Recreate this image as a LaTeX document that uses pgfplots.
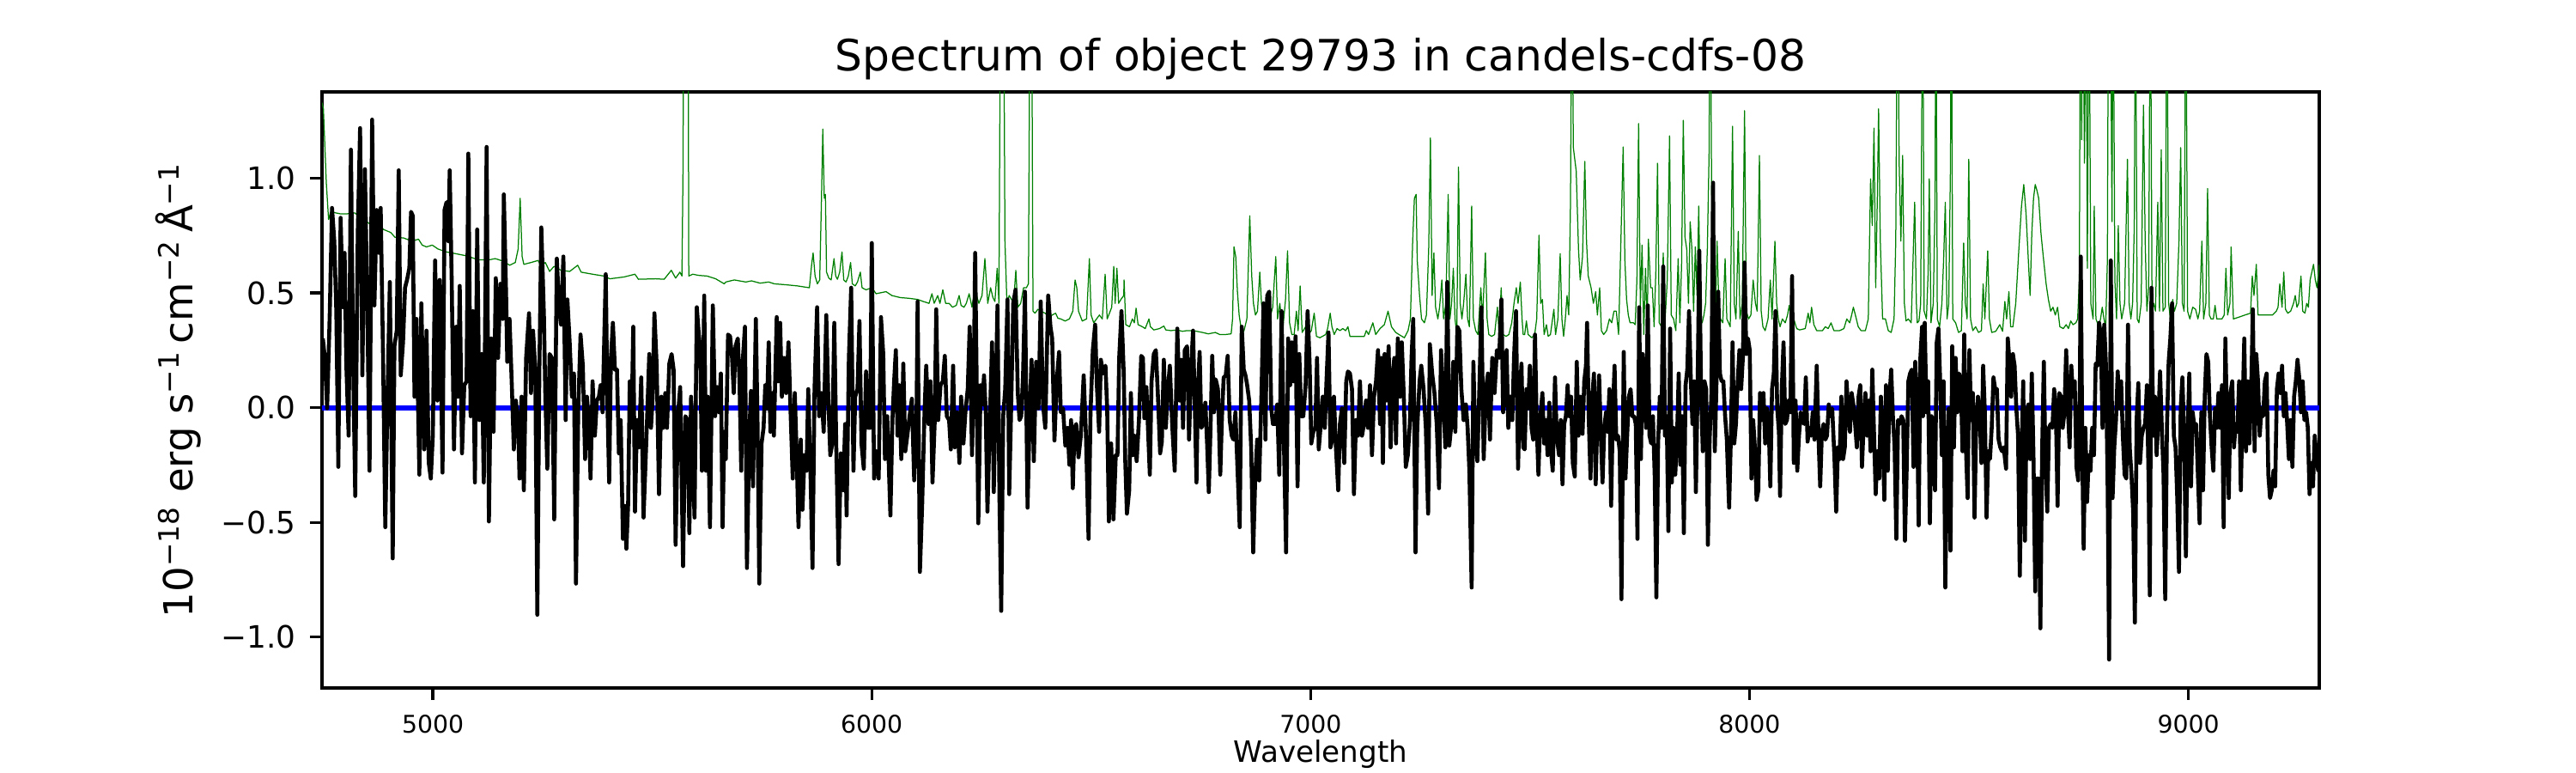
\documentclass[border=0pt]{standalone}
\usepackage{fontspec}
\setmainfont{DejaVu Sans}
\usepackage{pgfplots}
\pgfplotsset{compat=1.18}
\definecolor{mplgreen}{rgb}{0,0.5,0}
\begin{document}
\begin{tikzpicture}
\useasboundingbox (0,0) rectangle (720pt,216pt);
\begin{axis}[
  at={(90pt,23.76pt)}, anchor=south west,
  scale only axis, width=558.24pt, height=166.56pt,
  xmin=4747.5, xmax=9298.3, ymin=-1.222, ymax=1.377,
  axis line style={line width=0.8pt},
  tick align=outside, xtick pos=bottom, ytick pos=left,
  major tick length=3.36pt,
  every tick/.style={black, line width=0.8pt},
  xtick={5000,6000,7000,8000,9000},
  xticklabels={5000,6000,7000,8000,9000},
  ytick={-1,-0.5,0,0.5,1},
  yticklabels={−1.0,−0.5,0.0,0.5,1.0},
  scaled x ticks=false, scaled y ticks=false,
  xticklabel style={font=\fontsize{6.8}{8}\selectfont, anchor=north, inner sep=0pt, yshift=-4.08pt},
  yticklabel style={font=\fontsize{8.6}{10}\selectfont, anchor=east, inner sep=0pt, xshift=-3.74pt},
  title={Spectrum of object 29793 in candels-cdfs-08},
  every axis title/.style={font=\fontsize{12.07}{14}\selectfont, at={(axis description cs:0.5,1)}, anchor=base, yshift=5.85pt, inner sep=0pt},
  xlabel={Wavelength},
  every axis x label/.style={font=\fontsize{8.2}{10}\selectfont, at={(axis description cs:0.5,0)}, anchor=base, yshift=-20.88pt, inner sep=0pt},
  ylabel={10\textsuperscript{−18} erg s\textsuperscript{−1}\,cm\textsuperscript{−2}\,Å\textsuperscript{−1}},
  every axis y label/.style={font=\fontsize{11.2}{13}\selectfont, at={(axis description cs:-0.0645,0.5)}, rotate=90, anchor=base, inner sep=0pt},
  clip=true,
]
% green (noise / sky) spectrum
\addplot[mplgreen, line width=0.3pt, line join=round] coordinates {
(4747.5,1.33)(4750.7,1.303)(4757.3,0.981)(4762.5,0.820)(4767.1,0.854)(4789.9,0.845)(4803.0,0.845)(4822.5,0.849)(4835.6,0.828)(4855.1,0.803)(4868.2,0.811)(4887.8,0.777)(4904.1,0.764)(4913.8,0.743)(4933.4,0.740)(4953.0,0.726)(4967.3,0.735)(4975.8,0.709)(4985.6,0.701)(4998.7,0.709)(5011.7,0.692)(5031.3,0.679)(5050.9,0.672)(5077.0,0.662)(5103.0,0.645)(5129.1,0.645)(5142.2,0.650)(5161.8,0.638)(5174.8,0.621)(5187.9,0.633)(5194.4,0.692)(5199.0,0.913)(5203.5,0.659)(5207.4,0.625)(5223.7,0.633)(5240.1,0.642)(5246.6,0.616)(5256.4,0.633)(5266.1,0.594)(5275.9,0.616)(5292.2,0.599)(5311.8,0.594)(5330.1,0.621)(5337.9,0.591)(5364.0,0.582)(5390.1,0.574)(5403.2,0.562)(5435.8,0.570)(5460.6,0.582)(5468.4,0.560)(5507.5,0.562)(5527.1,0.560)(5543.4,0.599)(5553.2,0.565)(5563.0,0.591)(5567.6,0.574)(5570.2,1.066)(5571.5,2.0)(5576.5,2.0)(5581.5,2.0)(5583.2,0.574)(5592.3,0.582)(5605.4,0.577)(5625.0,0.574)(5644.5,0.562)(5664.1,0.540)
(5667.5,0.548)(5687.0,0.557)(5713.1,0.548)(5726.2,0.553)(5745.8,0.543)(5765.3,0.548)(5778.4,0.540)(5804.5,0.536)(5830.6,0.531)(5858.0,0.523)(5863.2,0.625)(5866.5,0.675)(5871.0,0.574)(5876.2,0.540)(5881.5,0.557)(5885.4,0.896)(5888.6,1.215)(5891.9,0.913)(5894.5,0.930)(5897.1,0.591)(5902.3,0.565)(5907.6,0.557)(5914.1,0.650)(5918.0,0.574)(5921.9,0.560)(5927.1,0.591)(5932.3,0.679)(5936.3,0.557)(5941.5,0.548)(5946.7,0.574)(5951.9,0.633)(5955.8,0.540)(5962.4,0.531)(5967.6,0.548)(5974.1,0.591)(5978.0,0.523)(5987.1,0.514)(6000.2,0.523)(6010.0,0.497)(6032.8,0.506)(6045.9,0.489)(6065.4,0.480)(6085.0,0.477)(6104.6,0.472)(6117.6,0.463)(6130.7,0.455)(6137.2,0.497)(6142.4,0.455)(6150.3,0.489)(6155.5,0.455)(6162.0,0.514)(6168.5,0.455)(6176.3,0.455)(6184.2,0.438)(6192.7,0.446)(6199.2,0.489)(6203.7,0.446)(6210.3,0.438)(6215.5,0.455)(6222.0,0.497)(6228.5,0.438)(6235.1,0.523)(6239.0,0.489)(6244.2,0.455)(6251.4,0.489)(6257.9,0.650)(6264.4,0.455)(6270.9,0.523)(6276.2,0.480)(6280.7,0.463)(6285.9,0.608)(6289.9,0.455)(6293.8,2.0)(6300.3,2.0)(6303.6,0.726)(6308.1,0.455)(6313.3,0.489)(6318.6,0.472)(6323.1,0.455)(6328.4,0.599)(6332.9,0.438)(6339.5,0.455)(6346.0,0.523)(6352.5,0.523)(6357.1,0.540)(6361.0,2.0)(6364.2,2.0)(6367.5,0.421)(6372.1,0.412)(6378.6,0.429)(6385.1,0.421)(6394.9,0.412)(6404.7,0.395)(6411.2,0.404)(6419.0,0.412)(6424.3,0.390)(6430.8,0.387)(6440.6,0.378)(6450.4,0.387)(6458.2,0.421)(6463.4,0.557)(6467.3,0.523)(6471.2,0.421)(6479.7,0.378)(6489.5,0.387)(6496.0,0.650)(6499.9,0.404)(6505.8,0.370)(6512.3,0.387)(6518.8,0.404)(6525.4,0.387)(6531.9,0.582)(6536.5,0.387)(6541.7,0.412)(6546.9,0.438)(6551.5,0.616)(6554.7,0.455)(6558.7,0.608)(6562.6,0.455)(6567.8,0.472)(6574.3,0.489)
(6575.0,0.557)(6578.9,0.362)(6587.4,0.353)(6593.9,0.387)(6598.4,0.370)(6602.4,0.434)(6606.9,0.362)(6616.7,0.353)(6623.2,0.345)(6631.7,0.387)(6635.0,0.353)(6642.8,0.339)(6655.9,0.345)(6665.6,0.356)(6670.2,0.339)(6682.0,0.336)(6695.0,0.339)(6708.1,0.333)(6717.8,0.336)(6730.9,0.336)(6740.7,0.333)(6753.7,0.328)(6766.8,0.322)(6783.1,0.328)(6792.9,0.319)(6805.9,0.319)(6819.0,0.322)(6822.2,0.387)(6825.5,0.701)(6829.4,0.659)(6833.3,0.506)(6837.2,0.404)(6843.8,0.319)(6848.3,0.336)(6854.8,0.387)(6861.4,0.837)(6865.9,0.574)(6869.8,0.455)(6874.4,0.404)(6879.0,0.421)(6884.2,0.591)(6888.1,0.455)(6892.0,0.387)(6897.2,0.404)(6901.2,0.455)(6907.0,0.387)(6913.6,0.438)(6920.7,0.659)(6924.7,0.387)(6929.9,0.455)(6936.4,0.336)(6942.9,0.472)(6947.5,0.684)(6952.1,0.370)(6957.3,0.319)(6962.5,0.319)(6967.7,0.421)(6971.6,0.336)(6976.2,0.531)(6980.8,0.328)(6988.6,0.353)(6995.1,0.319)(7001.6,0.336)(7008.2,0.412)(7013.4,0.311)(7021.2,0.305)(7034.3,0.319)(7038.8,0.345)(7044.7,0.412)(7048.6,0.353)(7053.8,0.319)(7060.3,0.345)(7066.9,0.336)(7073.4,0.345)(7079.9,0.336)(7085.1,0.353)(7089.7,0.311)(7112.5,0.311)(7122.3,0.311)(7126.9,0.336)(7132.1,0.319)(7141.9,0.370)(7148.4,0.319)(7158.2,0.345)(7168.0,0.362)(7176.5,0.421)(7184.3,0.353)(7194.1,0.328)(7203.9,0.316)(7213.7,0.305)(7222.1,0.336)(7227.4,0.387)(7232.6,0.726)(7236.5,0.913)(7240.4,0.930)(7243.0,0.642)(7248.3,0.489)(7252.8,0.387)(7259.3,0.370)(7263.9,0.404)(7269.1,0.692)(7273.0,1.176)(7276.9,0.489)(7280.9,0.675)(7284.8,0.438)(7290.0,0.387)(7293.9,0.438)(7299.1,0.557)(7303.0,0.387)(7308.3,0.455)(7313.5,0.930)(7317.4,0.387)(7321.3,0.455)(7325.2,0.608)(7329.1,0.387)(7333.1,0.319)(7337.0,1.049)(7340.9,0.455)(7344.8,0.387)(7348.7,0.455)(7353.9,0.582)(7357.8,0.387)(7361.8,0.353)(7367.0,0.879)(7370.9,0.387)(7376.1,0.336)(7381.3,0.319)(7387.9,0.523)(7391.8,0.387)(7398.3,0.675)(7402.2,0.387)(7406.1,0.319)(7412.6,0.311)(7419.2,0.319)(7425.7,0.438)(7429.6,0.319)(7434.2,0.523)(7438.7,0.319)(7445.3,0.311)(7451.8,0.319)(7458.3,0.370)(7463.5,0.455)(7468.7,0.523)(7472.7,0.455)(7477.9,0.548)(7481.8,0.387)(7484.4,0.319)
(7487.8,0.319)(7491.7,0.378)(7495.6,0.319)(7504.1,0.305)(7510.6,0.319)(7515.2,0.387)(7520.4,0.752)(7524.3,0.455)(7528.2,0.472)(7532.1,0.319)(7537.4,0.362)(7541.3,0.311)(7546.5,0.319)(7554.3,0.429)(7558.2,0.319)(7563.5,0.387)(7568.7,0.672)(7572.6,0.387)(7576.5,0.311)(7580.4,0.387)(7584.3,0.489)(7588.2,0.404)(7592.2,0.896)(7595.4,2.0)(7598.7,1.134)(7605.2,1.032)(7610.4,0.692)(7614.3,0.557)(7619.6,0.659)(7624.8,1.074)(7628.7,0.726)(7632.6,0.574)(7639.1,0.523)(7644.3,0.455)(7649.6,0.506)(7653.5,0.404)(7658.7,0.523)(7662.6,0.336)(7667.8,0.319)(7674.4,0.336)(7680.9,0.387)(7686.1,0.370)(7691.3,0.421)(7696.5,0.421)(7701.8,0.319)(7707.0,0.726)(7712.2,1.137)(7716.1,0.642)(7720.0,0.472)(7723.9,0.404)(7727.9,0.370)(7735.7,0.370)(7739.6,0.362)(7743.5,0.557)(7747.4,1.239)(7751.3,0.438)(7755.3,0.709)(7759.2,0.319)(7763.1,0.608)(7767.0,0.336)(7769.6,0.735)(7774.8,0.523)(7778.7,0.523)(7782.7,0.353)(7786.6,0.591)(7790.5,1.066)(7794.4,0.370)(7799.6,0.353)(7803.5,0.675)(7807.4,0.370)(7812.7,0.557)(7817.9,1.185)(7821.8,0.404)(7827.0,0.387)(7832.2,0.336)(7837.5,0.650)(7841.4,0.370)(7845.3,0.625)(7849.2,1.253)(7853.1,0.743)(7857.0,0.692)(7861.0,0.455)(7864.9,0.811)(7868.8,0.692)(7872.7,0.421)(7876.6,0.701)(7880.5,0.489)(7884.4,0.879)(7888.4,0.387)(7892.3,0.370)(7896.2,0.404)(7900.1,0.455)(7904.0,0.692)(7907.9,1.100)(7910.5,2.0)(7914.4,0.726)(7918.4,0.455)(7922.3,0.370)(7926.2,0.726)(7930.1,0.455)(7934.0,0.387)(7939.2,0.370)(7944.5,0.650)(7948.4,0.387)(7956.2,0.353)(7961.4,1.227)(7965.3,0.455)(7969.2,0.387)(7974.5,0.769)(7978.4,0.387)(7983.6,0.455)(7988.8,1.295)(7992.7,0.421)(7998.0,0.387)(8003.2,0.404)(8008.4,0.557)(8013.6,0.455)(8017.5,0.421)(8022.7,1.100)(8026.7,0.421)(8030.6,0.353)(8035.8,0.336)(8042.3,0.387)(8047.5,0.557)(8051.4,0.387)(8058.0,0.726)(8061.9,0.455)(8065.8,0.387)(8069.7,0.353)(8074.9,0.387)(8081.5,0.370)(8086.7,0.404)(8090.6,0.446)(8095.8,0.370)(8101.0,0.387)(8107.6,0.345)(8114.1,0.339)(8127.1,0.345)(8133.7,0.412)(8137.6,0.370)(8141.5,0.438)(8146.7,0.362)(8153.2,0.336)(8166.3,0.336)(8172.8,0.353)(8179.3,0.345)(8185.8,0.370)(8192.4,0.336)(8205.4,0.336)(8215.2,0.345)(8221.7,0.387)(8228.3,0.370)(8232.8,0.404)(8236.7,0.438)(8241.3,0.404)(8247.8,0.353)(8254.3,0.336)(8264.1,0.336)(8270.7,0.387)(8275.9,0.998)(8279.8,0.794)(8283.7,1.219)(8287.6,0.523)(8291.5,0.930)(8294.2,1.303)(8298.1,0.726)(8303.3,0.387)(8309.8,0.387)(8316.3,0.336)(8322.9,0.328)(8329.4,0.387)(8333.3,0.726)(8337.2,2.0)(8341.1,1.066)(8345.0,0.726)(8349.0,1.100)(8352.9,0.455)(8356.8,0.378)(8362.0,0.387)(8368.5,0.370)(8372.4,0.625)(8376.4,0.896)(8380.3,0.455)
(8382.3,0.370)(8386.2,0.378)(8390.1,0.455)(8394.7,2.0)(8398.0,0.421)(8403.2,0.387)(8407.1,0.591)(8409.7,0.998)(8413.6,0.370)(8418.8,0.455)(8422.8,0.896)(8424.7,2.0)(8428.0,0.387)(8433.2,0.353)(8438.4,0.455)(8442.3,0.642)(8446.2,0.896)(8450.2,0.387)(8454.1,0.455)(8458.0,1.066)(8459.9,2.0)(8463.2,0.387)(8469.7,0.370)(8476.3,0.328)(8482.8,0.336)(8488.0,0.718)(8491.9,0.455)(8495.8,0.387)(8499.7,1.083)(8503.7,0.387)(8508.9,0.336)(8515.4,0.353)(8521.9,0.328)(8528.5,0.336)(8532.4,0.540)(8536.3,0.387)(8542.8,0.684)(8546.7,0.387)(8551.9,0.328)(8561.1,0.333)(8570.2,0.362)(8576.7,0.333)(8581.9,0.463)(8585.9,0.387)(8591.1,0.506)(8595.0,0.353)(8600.2,0.353)(8606.7,0.455)(8613.3,0.675)(8619.8,0.879)(8625.0,0.973)(8630.2,0.845)(8635.4,0.642)(8639.4,0.489)(8643.3,0.760)(8647.2,0.913)(8651.1,0.973)(8655.0,0.947)(8658.9,0.913)(8664.2,0.760)(8669.4,0.659)(8675.9,0.540)(8681.1,0.472)(8686.3,0.421)(8691.6,0.438)(8696.8,0.404)(8702.0,0.438)(8707.2,0.353)(8715.0,0.345)(8721.6,0.362)(8726.8,0.345)(8732.0,0.378)(8737.2,0.362)(8743.7,0.370)(8747.7,0.387)(8751.6,0.557)(8754.2,2.0)(8756.8,1.168)(8759.4,2.0)(8763.3,1.066)(8767.2,2.0)(8769.8,0.608)(8773.8,2.0)(8777.7,0.455)(8782.9,0.387)(8785.5,0.879)(8789.4,0.387)(8795.9,0.353)(8799.9,0.387)(8803.8,0.438)(8807.7,0.387)(8811.6,0.353)(8815.5,0.642)(8818.1,2.0)(8822.0,2.0)(8826.0,0.811)(8828.6,2.0)(8832.5,0.557)(8836.4,0.387)(8840.3,0.794)(8844.2,0.455)(8848.1,0.387)(8854.7,0.455)(8861.2,1.083)(8865.1,0.455)(8869.0,0.387)(8872.9,0.455)(8876.8,0.794)(8879.4,2.0)(8883.4,0.387)(8887.3,0.370)(8892.5,0.455)(8897.7,1.320)(8901.6,0.726)(8905.5,0.421)(8909.5,0.523)(8913.4,2.0)(8917.3,0.421)(8921.2,0.455)(8925.1,0.421)(8930.3,0.896)(8934.2,0.421)(8938.2,1.125)(8942.1,0.421)(8947.3,0.438)(8951.2,2.0)(8955.1,0.455)(8959.0,0.387)(8964.3,0.472)(8968.2,0.421)(8973.4,0.455)(8978.6,0.726)(8982.5,1.134)(8986.4,0.455)(8990.3,0.421)(8994.3,2.0)(8998.2,0.421)(9003.4,0.387)(9009.9,0.438)(9016.5,0.429)(9021.7,0.387)(9025.6,0.421)(9030.8,0.726)(9034.7,0.387)(9039.9,0.455)(9043.8,0.956)(9047.8,0.404)(9051.7,0.387)(9056.9,0.387)(9060.8,0.446)(9064.7,0.387)(9076.5,0.387)(9081.7,0.404)(9085.6,0.608)(9089.5,0.404)(9094.7,0.455)(9097.4,0.701)(9102.6,0.387)(9115.6,0.395)(9128.7,0.404)(9141.7,0.412)(9145.6,0.574)(9149.5,0.489)(9154.8,0.625)(9158.7,0.404)(9171.7,0.404)(9191.3,0.404)(9200.4,0.421)(9204.3,0.438)(9208.3,0.540)(9213.5,0.438)(9217.4,0.591)(9221.3,0.429)(9226.5,0.412)(9233.1,0.421)(9239.6,0.455)(9243.5,0.489)(9247.4,0.438)(9251.3,0.455)(9256.6,0.574)(9260.5,0.421)(9265.7,0.412)(9269.6,0.455)(9273.5,0.438)(9277.4,0.557)(9281.3,0.591)(9285.2,0.625)(9289.2,0.557)(9293.1,0.523)(9298.3,0.625)
};
% blue model at zero
\addplot[blue, line width=1.5pt] coordinates {(4747.5,0)(9298.3,0)};
% black flux
\addplot[black, line width=1.1pt, line join=round] coordinates {
(4749.4,0.302)(4754.0,0.217)(4759.2,-0.003)(4765.1,0.404)(4770.3,0.871)(4775.5,0.726)(4780.1,0.421)(4784.7,-0.258)(4789.9,0.828)(4795.1,0.438)(4799.0,0.675)(4803.0,0.183)(4808.2,-0.122)(4813.4,1.125)(4818.6,0.183)(4823.2,-0.385)(4829.0,0.760)(4834.3,1.219)(4839.5,0.141)(4845.3,1.040)(4850.6,0.455)(4855.8,-0.275)(4861.7,1.256)(4866.9,0.446)(4872.1,0.862)(4877.3,0.675)(4881.2,0.871)(4886.4,0.251)(4891.7,-0.521)(4896.9,0.064)(4902.1,0.548)(4908.6,-0.657)(4912.5,0.268)(4917.8,0.336)(4922.3,1.035)(4926.9,0.141)(4932.1,0.285)(4936.7,0.523)(4941.2,0.557)(4946.5,0.608)(4950.4,0.854)(4954.3,0.837)(4958.2,0.048)(4962.8,0.387)(4969.3,-0.292)(4973.9,0.455)(4980.4,-0.182)(4985.6,0.336)(4990.8,-0.241)(4995.4,-0.309)(5000.0,-0.122)(5005.2,0.642)(5010.4,0.031)(5015.6,0.557)(5022.1,-0.283)(5026.7,0.862)(5031.3,0.896)(5035.2,0.726)(5038.5,1.035)(5043.0,0.557)(5048.2,-0.182)(5053.5,0.353)(5057.4,0.048)(5061.3,0.531)(5066.5,-0.199)(5071.7,0.098)(5077.0,0.115)(5080.9,1.108)(5086.1,-0.037)(5091.3,0.421)(5095.9,-0.326)(5101.1,0.777)(5106.3,-0.054)(5111.5,0.234)(5116.1,-0.326)(5122.6,1.137)(5127.8,-0.496)(5133.1,0.302)(5138.3,-0.105)(5143.5,0.565)(5148.7,0.217)(5153.9,0.540)(5159.2,0.387)(5161.8,0.930)(5167.0,0.489)(5169.6,0.200)(5174.8,0.387)(5180.0,0.098)(5184.6,-0.182)(5189.2,0.031)(5194.4,-0.071)(5197.6,-0.309)(5202.2,0.048)(5207.4,-0.360)(5212.6,0.217)(5219.2,0.412)(5223.7,0.064)(5228.3,0.336)(5233.5,0.166)(5238.1,-0.903)(5242.7,0.158)(5247.2,0.786)(5253.1,0.404)(5256.4,0.048)(5260.9,-0.266)(5266.1,0.234)(5271.4,0.217)(5276.6,-0.487)(5282.5,0.650)(5287.0,0.472)(5292.2,0.362)(5297.5,0.659)(5302.7,-0.054)(5306.6,0.472)(5311.8,0.285)(5317.0,0.048)(5321.6,0.149)(5326.2,-0.767)(5331.4,-0.003)(5336.6,0.319)(5341.8,0.183)(5347.0,-0.224)(5351.0,0.048)(5355.5,-0.054)(5359.4,-0.309)(5364.0,0.115)(5369.2,-0.122)(5373.8,0.031)(5378.4,0.048)(5382.3,0.098)(5386.8,-0.020)(5394.0,0.582)(5397.9,0.014)(5401.8,-0.326)(5405.8,0.217)(5410.3,0.370)(5414.9,0.166)(5419.5,0.166)(5424.0,-0.199)(5428.0,-0.054)(5433.2,-0.572)(5437.1,-0.428)(5441.0,-0.615)(5444.9,-0.428)(5448.8,0.115)(5452.7,-0.088)(5456.7,0.353)(5460.6,-0.453)(5465.1,-0.054)(5469.7,-0.173)(5474.9,0.132)(5480.1,-0.479)(5485.3,-0.207)(5489.3,0.014)(5493.2,0.234)(5497.1,-0.088)(5501.0,0.048)(5504.9,0.412)(5510.1,0.183)(5515.4,-0.377)(5520.6,0.048)(5525.1,-0.088)(5529.7,0.064)(5533.6,-0.088)(5538.8,0.192)(5544.1,0.234)(5548.6,0.166)(5553.2,-0.598)(5558.4,-0.037)(5563.6,0.090)(5570.2,-0.691)(5575.4,-0.037)(5580.6,-0.054)(5584.5,-0.547)(5588.4,0.048)(5592.3,-0.224)(5596.3,-0.479)(5601.5,0.438)(5605.4,0.336)(5609.3,0.251)(5613.2,-0.275)(5618.4,0.489)(5622.4,-0.275)(5626.3,0.048)(5631.5,-0.521)(5638.0,0.446)(5643.2,-0.037)(5647.8,0.090)(5652.4,-0.020)(5656.3,0.149)(5660.2,-0.521)(5664.1,-0.105)
(5667.5,-0.224)(5672.7,0.319)(5677.3,0.311)(5681.8,0.217)(5685.7,0.064)(5689.7,0.268)(5694.9,0.302)(5698.8,0.115)(5702.7,-0.275)(5706.6,0.217)(5711.2,0.353)(5715.7,-0.699)(5721.0,-0.122)(5724.9,0.073)(5729.5,-0.343)(5736.0,0.387)(5739.9,-0.071)(5743.8,-0.767)(5749.0,-0.156)(5753.6,-0.088)(5757.5,0.098)(5761.4,-0.003)(5765.3,0.285)(5769.2,-0.105)(5773.8,0.064)(5777.1,-0.122)(5783.6,0.395)(5787.5,0.115)(5791.4,0.370)(5795.3,0.048)(5800.6,0.217)(5805.1,0.064)(5810.3,0.285)(5814.9,-0.003)(5820.1,-0.309)(5824.7,0.064)(5828.6,-0.173)(5833.2,-0.521)(5838.4,-0.139)(5842.3,-0.445)(5846.9,-0.207)(5851.5,-0.275)(5855.4,0.081)(5860.6,-0.292)(5865.1,-0.699)(5869.7,0.081)(5875.6,0.438)(5880.2,-0.037)(5885.4,0.064)(5890.6,-0.105)(5896.5,0.404)(5901.0,0.048)(5905.6,-0.207)(5910.2,-0.156)(5914.7,0.370)(5919.3,-0.173)(5924.5,-0.682)(5929.7,-0.199)(5935.0,-0.360)(5939.5,-0.071)(5942.8,-0.470)(5948.0,0.217)(5953.2,0.523)(5958.4,-0.275)(5962.4,0.048)(5967.6,0.081)(5972.1,0.378)(5976.7,-0.156)(5981.9,-0.266)(5987.1,0.158)(5992.4,-0.088)(5996.3,-0.088)(6000.2,0.718)(6005.4,-0.309)(6010.6,-0.190)(6015.9,-0.309)(6021.1,0.395)(6026.3,0.234)(6030.2,-0.224)(6035.4,-0.037)(6042.6,-0.470)(6047.2,-0.054)(6051.1,0.115)(6055.0,0.251)(6058.9,-0.122)(6062.8,0.098)(6067.4,-0.224)(6072.0,0.192)(6076.5,-0.190)(6081.1,-0.122)(6086.3,-0.037)(6091.5,0.039)(6096.8,-0.317)(6102.0,-0.071)(6104.6,0.463)(6109.8,-0.716)(6115.0,-0.419)(6120.2,-0.029)(6124.2,0.183)(6129.4,-0.071)(6133.9,0.115)(6138.5,-0.326)(6143.7,-0.054)(6147.0,0.429)(6151.5,-0.054)(6156.8,0.098)(6162.0,0.115)(6166.6,0.226)(6171.1,-0.037)(6176.3,-0.054)(6180.3,-0.182)(6185.5,0.183)(6189.4,-0.173)(6194.6,-0.020)(6199.8,-0.241)(6203.7,0.048)(6209.0,-0.156)(6213.5,-0.020)(6218.8,0.081)(6223.3,0.353)(6228.5,-0.207)(6232.4,0.115)(6235.7,0.675)(6240.3,-0.071)(6242.9,-0.504)(6248.1,0.098)(6252.0,0.014)(6255.9,0.141)(6259.8,-0.012)(6263.7,-0.453)(6269.0,-0.071)(6274.2,0.285)(6278.1,-0.368)(6282.0,0.014)(6286.6,0.446)(6291.2,-0.411)(6295.1,-0.886)(6299.6,-0.037)(6304.2,0.081)(6309.4,0.472)(6313.3,-0.377)(6317.3,-0.037)(6322.5,0.455)(6327.7,0.514)(6332.9,0.064)(6336.8,-0.054)(6340.7,-0.037)(6344.7,0.132)(6349.2,0.506)(6355.1,-0.436)(6360.3,-0.003)(6364.2,0.209)(6369.4,-0.233)(6374.7,0.200)(6379.9,-0.003)(6385.1,0.463)(6390.3,0.014)(6395.5,-0.088)(6402.1,0.489)(6407.3,0.353)(6411.2,0.302)(6416.4,-0.143)(6421.6,0.115)(6426.9,0.243)(6430.8,-0.020)(6436.0,-0.003)(6441.2,-0.165)(6446.4,-0.088)(6450.4,-0.249)(6454.3,-0.054)(6458.2,-0.351)(6462.1,-0.088)(6466.0,-0.071)(6471.2,-0.216)(6476.5,-0.122)(6483.0,0.141)(6488.2,-0.122)(6494.1,-0.572)(6498.6,-0.020)(6503.8,0.251)(6509.1,0.362)(6513.0,0.098)(6518.2,-0.105)(6522.1,0.209)(6527.3,0.149)(6532.6,0.183)(6536.5,-0.003)(6540.4,-0.496)(6545.6,-0.156)(6550.8,-0.487)(6556.1,-0.207)(6560.0,-0.207)(6563.9,0.217)(6569.1,0.421)(6574.3,0.149)
(6577.6,-0.224)(6581.5,-0.462)(6586.7,-0.360)(6590.6,0.064)(6594.5,-0.207)(6598.4,-0.122)(6603.7,-0.233)(6608.9,-0.054)(6614.1,0.226)(6618.0,0.217)(6621.3,-0.046)(6625.9,0.090)(6629.8,-0.105)(6633.7,-0.292)(6637.6,0.115)(6642.8,0.234)(6647.4,0.251)(6651.9,0.064)(6657.2,-0.199)(6661.1,-0.148)(6665.6,0.209)(6670.2,-0.088)(6674.1,0.064)(6679.3,0.183)(6684.6,-0.071)(6690.4,-0.275)(6696.3,0.345)(6701.5,0.031)(6705.4,0.209)(6709.4,-0.088)(6713.3,0.251)(6718.5,0.268)(6723.1,-0.139)(6727.6,0.166)(6732.2,0.336)(6736.1,0.014)(6740.0,-0.326)(6743.3,0.081)(6747.2,0.243)(6751.1,-0.088)(6755.0,-0.071)(6760.2,0.022)(6764.2,-0.156)(6768.1,-0.368)(6772.0,-0.088)(6775.9,0.226)(6779.8,-0.020)(6783.7,0.124)(6788.9,0.081)(6794.2,-0.292)(6798.1,-0.037)(6802.0,0.132)(6806.6,0.141)(6811.1,0.226)(6815.7,-0.054)(6820.3,-0.122)(6824.2,-0.139)(6828.7,-0.020)(6833.3,-0.258)(6838.5,-0.521)(6843.1,0.353)(6847.7,0.166)(6851.6,0.141)(6855.5,0.098)(6860.1,0.031)(6864.6,-0.173)(6869.2,-0.631)(6873.8,-0.309)(6878.3,-0.139)(6882.9,-0.317)(6888.1,0.064)(6892.7,0.455)(6897.2,-0.139)(6901.2,0.489)(6905.7,0.506)(6910.3,-0.003)(6914.2,-0.071)(6919.4,-0.071)(6924.0,0.014)(6928.6,-0.292)(6933.8,0.421)(6938.4,-0.071)(6944.2,-0.631)(6948.8,0.302)(6953.4,0.098)(6957.3,0.285)(6961.2,0.115)(6965.8,0.311)(6970.3,-0.343)(6974.2,0.234)(6978.8,-0.037)(6983.4,-0.037)(6988.6,0.098)(6993.2,0.421)(6997.7,0.200)(7001.6,-0.156)(7006.2,-0.105)(7010.8,-0.088)(7014.7,0.217)(7018.6,-0.182)(7023.2,-0.071)(7027.7,0.048)(7032.3,-0.088)(7036.2,0.115)(7040.8,0.328)(7045.3,-0.173)(7049.3,-0.139)(7053.2,0.048)(7057.7,-0.173)(7063.0,-0.360)(7066.9,-0.071)(7071.4,-0.003)(7076.7,-0.241)(7081.2,0.115)(7085.1,0.158)(7089.7,0.149)(7094.3,0.081)(7098.8,-0.377)(7103.4,-0.054)(7108.0,-0.122)(7112.5,0.115)(7117.1,-0.122)(7121.7,-0.071)(7126.2,0.031)(7130.8,-0.088)(7135.4,0.098)(7139.9,-0.207)(7144.5,0.048)(7149.1,0.115)(7153.6,0.251)(7158.2,-0.071)(7161.5,0.217)(7164.7,-0.241)(7168.6,0.234)(7173.2,0.031)(7177.8,0.268)(7182.3,-0.173)(7186.9,0.149)(7190.8,0.217)(7194.7,-0.156)(7198.7,0.302)(7203.9,0.048)(7207.8,0.285)(7212.4,0.048)(7216.9,-0.258)(7221.5,-0.207)(7226.1,-0.071)(7230.0,0.217)(7233.9,0.387)(7239.1,-0.631)(7243.0,-0.088)(7248.3,0.115)(7252.2,0.183)(7257.4,0.081)(7262.6,-0.088)(7267.8,-0.462)(7271.7,0.277)(7277.0,0.149)(7282.2,0.064)(7287.4,-0.071)(7292.6,-0.351)(7297.2,0.251)(7301.7,0.081)(7307.0,-0.173)(7311.5,0.548)(7316.1,-0.165)(7320.0,-0.088)(7325.2,0.200)(7329.8,-0.105)(7334.4,0.353)(7338.9,0.336)(7343.5,0.081)(7348.7,-0.054)(7353.9,0.014)(7357.8,-0.088)(7361.8,-0.275)(7367.0,-0.784)(7370.9,0.200)(7374.8,-0.105)(7380.0,-0.233)(7385.2,0.132)(7389.2,0.438)(7394.4,-0.224)(7399.6,0.081)(7404.2,0.149)(7408.7,-0.139)(7413.9,0.217)(7419.2,0.064)(7424.4,0.251)(7429.6,0.217)(7434.8,0.472)(7438.7,-0.020)(7442.7,0.081)(7446.6,0.251)(7450.5,-0.088)(7455.1,0.048)(7459.6,-0.054)(7463.5,0.217)(7468.1,0.421)(7472.7,-0.266)(7476.6,0.048)(7480.5,0.192)(7484.4,-0.173)
(7487.8,-0.182)(7491.7,0.081)(7495.6,-0.003)(7499.5,0.183)(7503.4,-0.088)(7507.3,-0.139)(7511.3,0.319)(7515.2,-0.071)(7519.1,-0.292)(7523.0,-0.054)(7528.2,0.064)(7532.1,-0.156)(7536.1,-0.054)(7540.0,-0.207)(7543.9,0.022)(7547.8,-0.190)(7551.7,-0.275)(7556.9,0.132)(7560.8,-0.122)(7566.1,-0.207)(7570.0,-0.054)(7573.9,-0.334)(7577.8,-0.071)(7581.7,-0.037)(7585.6,0.098)(7589.5,-0.037)(7593.5,0.048)(7597.4,-0.241)(7601.9,-0.300)(7606.5,0.200)(7610.4,-0.122)(7614.3,0.048)(7619.6,-0.114)(7623.5,0.115)(7627.4,0.183)(7630.0,0.370)(7633.9,-0.054)(7637.8,-0.309)(7641.7,0.048)(7645.7,0.149)(7649.6,-0.334)(7653.5,-0.037)(7657.4,0.141)(7661.3,-0.122)(7665.2,-0.326)(7669.1,-0.088)(7673.1,-0.020)(7677.0,-0.105)(7680.9,0.081)(7684.8,-0.428)(7688.7,-0.020)(7692.6,0.183)(7696.5,-0.139)(7700.5,-0.122)(7704.4,-0.190)(7708.3,-0.835)(7713.5,0.243)(7717.4,-0.309)(7721.3,-0.122)(7725.2,0.048)(7729.2,0.081)(7733.1,-0.037)(7737.0,-0.037)(7740.9,-0.071)(7744.8,-0.572)(7748.7,0.438)(7752.6,-0.224)(7756.6,0.234)(7760.5,0.081)(7764.4,-0.088)(7768.3,0.446)(7772.2,-0.122)(7776.1,-0.156)(7780.0,-0.037)(7784.0,-0.292)(7787.9,-0.827)(7791.8,-0.156)(7795.7,0.048)(7799.6,-0.088)(7803.5,0.616)(7807.4,-0.122)(7811.4,-0.037)(7815.3,-0.538)(7819.2,0.345)(7823.1,-0.326)(7827.0,-0.088)(7830.9,-0.292)(7834.8,-0.139)(7838.8,0.149)(7842.7,-0.249)(7846.6,-0.037)(7850.5,-0.547)(7854.4,0.098)(7858.3,0.166)(7862.3,0.421)(7866.2,0.132)(7870.1,-0.071)(7874.0,0.115)(7877.9,-0.368)(7881.8,0.098)(7885.7,0.684)(7889.7,0.064)(7893.6,-0.190)(7897.5,0.115)(7901.4,0.081)(7905.3,-0.598)(7909.2,-0.139)(7913.1,0.048)(7917.1,0.981)(7921.0,-0.190)(7924.9,0.115)(7928.8,0.506)(7932.7,0.149)(7936.6,0.115)(7940.5,0.115)(7944.5,-0.037)(7948.4,-0.139)(7953.6,-0.436)(7957.5,-0.139)(7961.4,0.285)(7965.3,-0.156)(7969.2,-0.071)(7973.2,0.115)(7977.1,0.251)(7981.0,0.081)(7984.9,0.217)(7988.8,0.633)(7992.7,0.234)(7996.6,0.302)(8000.6,0.251)(8004.5,-0.309)(8008.4,-0.054)(8012.3,-0.173)(8016.2,-0.402)(8020.1,-0.360)(8024.0,0.064)(8028.0,-0.054)(8031.9,0.064)(8035.8,-0.156)(8039.7,-0.003)(8043.6,-0.054)(8047.5,-0.343)(8051.4,0.081)(8055.4,0.149)(8059.3,0.421)(8063.2,-0.003)(8067.1,-0.105)(8069.7,-0.385)(8073.6,0.081)(8077.6,0.285)(8081.5,-0.071)(8085.4,-0.054)(8089.3,0.031)(8093.2,-0.020)(8097.1,0.574)(8101.0,-0.241)(8105.0,0.031)(8108.9,-0.275)(8112.8,-0.122)(8116.7,-0.020)(8120.6,-0.054)(8124.5,-0.071)(8128.4,0.132)(8132.4,-0.148)(8136.3,-0.088)(8140.2,-0.122)(8144.1,-0.020)(8148.0,-0.139)(8153.2,0.183)(8157.2,-0.122)(8161.1,-0.343)(8165.0,-0.105)(8168.9,-0.071)(8172.8,-0.139)(8176.7,-0.122)(8180.6,0.014)(8184.6,-0.037)(8188.5,-0.003)(8193.7,-0.224)(8197.6,-0.453)(8201.5,-0.173)(8205.4,-0.224)(8209.3,0.048)(8213.3,-0.224)(8217.2,-0.173)(8221.1,0.115)(8225.0,-0.003)(8228.9,-0.105)(8232.8,0.064)(8236.7,0.014)(8240.7,-0.071)(8244.6,-0.173)(8248.5,0.048)(8252.4,0.098)(8256.3,-0.258)(8260.2,-0.071)(8264.1,0.064)(8268.1,-0.122)(8272.0,0.031)(8275.9,-0.190)(8279.8,0.166)(8283.7,-0.105)(8287.6,-0.377)(8291.5,-0.190)(8295.5,-0.309)(8299.4,0.048)(8303.3,-0.105)(8307.2,-0.402)(8311.1,0.098)(8315.0,-0.275)(8319.0,0.048)(8322.9,0.166)(8326.8,-0.037)(8330.7,-0.173)(8334.6,-0.572)(8338.5,-0.054)(8342.4,-0.071)(8346.4,-0.037)(8350.3,-0.054)(8354.2,-0.580)(8358.1,-0.275)(8362.0,0.115)(8365.9,0.149)(8369.8,0.166)(8373.8,-0.258)(8377.7,0.200)(8381.6,0.014)(8385.5,-0.513)(8389.4,0.217)(8393.3,0.353)
(8395.4,-0.037)(8399.3,0.370)(8403.2,-0.020)(8407.1,0.115)(8411.0,-0.504)(8414.9,-0.037)(8418.8,-0.224)(8422.8,-0.360)(8426.7,0.285)(8430.6,0.345)(8434.5,0.115)(8438.4,-0.207)(8442.3,0.115)(8446.2,-0.784)(8450.2,-0.207)(8454.1,-0.003)(8458.0,-0.623)(8461.9,0.268)(8465.8,-0.173)(8469.7,0.217)(8473.7,-0.020)(8477.6,0.149)(8481.5,0.115)(8485.4,-0.190)(8489.3,0.319)(8493.2,-0.173)(8497.1,-0.394)(8501.1,0.251)(8505.0,-0.054)(8508.9,0.064)(8512.8,-0.479)(8516.7,-0.054)(8520.6,0.048)(8524.5,-0.020)(8528.5,-0.241)(8532.4,0.183)(8536.3,-0.020)(8540.2,-0.479)(8544.1,-0.190)(8548.0,-0.224)(8551.9,-0.088)(8555.9,0.132)(8559.8,0.081)(8563.7,0.081)(8567.6,-0.139)(8571.5,-0.173)(8575.4,-0.190)(8579.3,-0.173)(8584.6,-0.266)(8588.5,0.302)(8592.4,0.200)(8596.3,0.048)(8600.2,0.234)(8604.1,0.183)(8608.0,-0.003)(8612.0,-0.122)(8615.9,-0.733)(8619.8,-0.224)(8623.7,0.115)(8627.6,-0.580)(8631.5,-0.020)(8635.4,0.014)(8639.4,-0.224)(8643.3,0.149)(8647.2,-0.224)(8651.1,-0.801)(8655.0,-0.309)(8658.9,-0.309)(8662.8,-0.962)(8666.8,-0.190)(8670.7,0.200)(8674.6,-0.258)(8678.5,-0.453)(8682.4,-0.088)(8686.3,-0.071)(8690.2,-0.088)(8694.2,0.081)(8698.1,-0.003)(8702.0,-0.428)(8705.9,0.064)(8709.8,0.048)(8713.7,-0.088)(8717.6,-0.020)(8721.6,0.251)(8725.5,-0.003)(8729.4,-0.173)(8733.3,0.183)(8737.2,0.048)(8741.1,0.115)(8745.0,-0.258)(8749.0,-0.317)(8752.9,0.115)(8754.8,0.659)(8758.7,-0.258)(8761.4,-0.615)(8765.3,-0.088)(8769.2,-0.411)(8773.1,-0.207)(8777.0,-0.275)(8780.9,-0.088)(8784.9,-0.207)(8788.8,0.192)(8792.7,0.183)(8796.6,0.370)(8800.5,0.319)(8804.4,-0.088)(8808.3,0.362)(8812.3,0.183)(8816.2,-0.360)(8819.4,-1.098)(8823.3,0.642)(8827.3,-0.394)(8831.2,-0.173)(8835.1,-0.054)(8839.0,0.158)(8842.9,-0.003)(8846.8,0.115)(8850.7,-0.122)(8854.7,-0.292)(8858.6,-0.309)(8862.5,0.362)(8866.4,-0.173)(8870.3,-0.292)(8874.2,-0.453)(8878.1,-0.937)(8882.1,-0.054)(8886.0,0.107)(8889.9,-0.241)(8893.8,-0.122)(8897.7,-0.088)(8901.6,-0.071)(8905.5,0.098)(8909.5,-0.326)(8912.1,-0.818)(8916.0,0.523)(8919.9,-0.122)(8923.8,0.048)(8927.7,-0.207)(8931.6,-0.054)(8935.5,0.158)(8939.5,-0.088)(8943.4,-0.292)(8947.3,-0.835)(8951.2,-0.088)(8955.1,0.200)(8959.0,0.302)(8962.9,0.455)(8966.9,-0.122)(8970.8,-0.173)(8974.7,-0.394)(8978.6,-0.716)(8982.5,-0.003)(8986.4,0.132)(8990.3,-0.122)(8994.3,-0.648)(8998.2,-0.122)(9002.1,0.149)(9006.0,-0.343)(9009.9,-0.020)(9013.8,-0.088)(9017.8,-0.071)(9021.7,-0.292)(9025.6,-0.504)(9029.5,-0.020)(9033.4,-0.360)(9037.3,0.048)(9041.2,0.234)(9045.2,0.200)(9049.1,-0.037)(9053.0,-0.173)(9056.9,-0.275)(9060.8,-0.003)(9064.7,-0.088)(9068.6,0.064)(9072.6,-0.088)(9076.5,0.098)(9080.4,-0.521)(9084.3,0.302)(9088.2,-0.088)(9092.1,-0.394)(9096.0,0.064)(9100.0,0.115)(9103.9,-0.173)(9107.8,-0.071)(9111.7,-0.105)(9115.6,0.115)(9119.5,-0.360)(9123.4,-0.020)(9127.4,0.302)(9131.3,-0.190)(9135.2,0.115)(9139.1,-0.156)(9143.0,0.064)(9146.9,0.429)(9150.9,-0.190)(9154.8,0.234)(9158.7,0.115)(9162.6,-0.122)(9166.5,-0.003)(9170.4,-0.037)(9174.3,0.115)(9178.3,0.149)(9182.2,-0.292)(9186.1,-0.394)(9190.0,-0.360)(9193.9,-0.275)(9197.8,-0.343)(9201.7,0.081)(9205.7,0.149)(9209.6,0.064)(9213.5,0.183)(9217.4,-0.037)(9221.3,0.064)(9225.2,-0.071)(9229.1,-0.224)(9233.1,-0.054)(9237.0,-0.258)(9240.9,0.048)(9244.8,0.115)(9248.7,0.209)(9252.6,0.132)(9256.6,-0.020)(9260.5,0.115)(9264.4,-0.054)(9268.3,-0.020)(9272.2,-0.088)(9276.1,-0.377)(9280.0,-0.241)(9284.0,-0.343)(9287.9,-0.122)(9291.8,-0.207)(9295.7,-0.275)(9298.3,-0.258)
};
\end{axis}
\end{tikzpicture}
\end{document}
